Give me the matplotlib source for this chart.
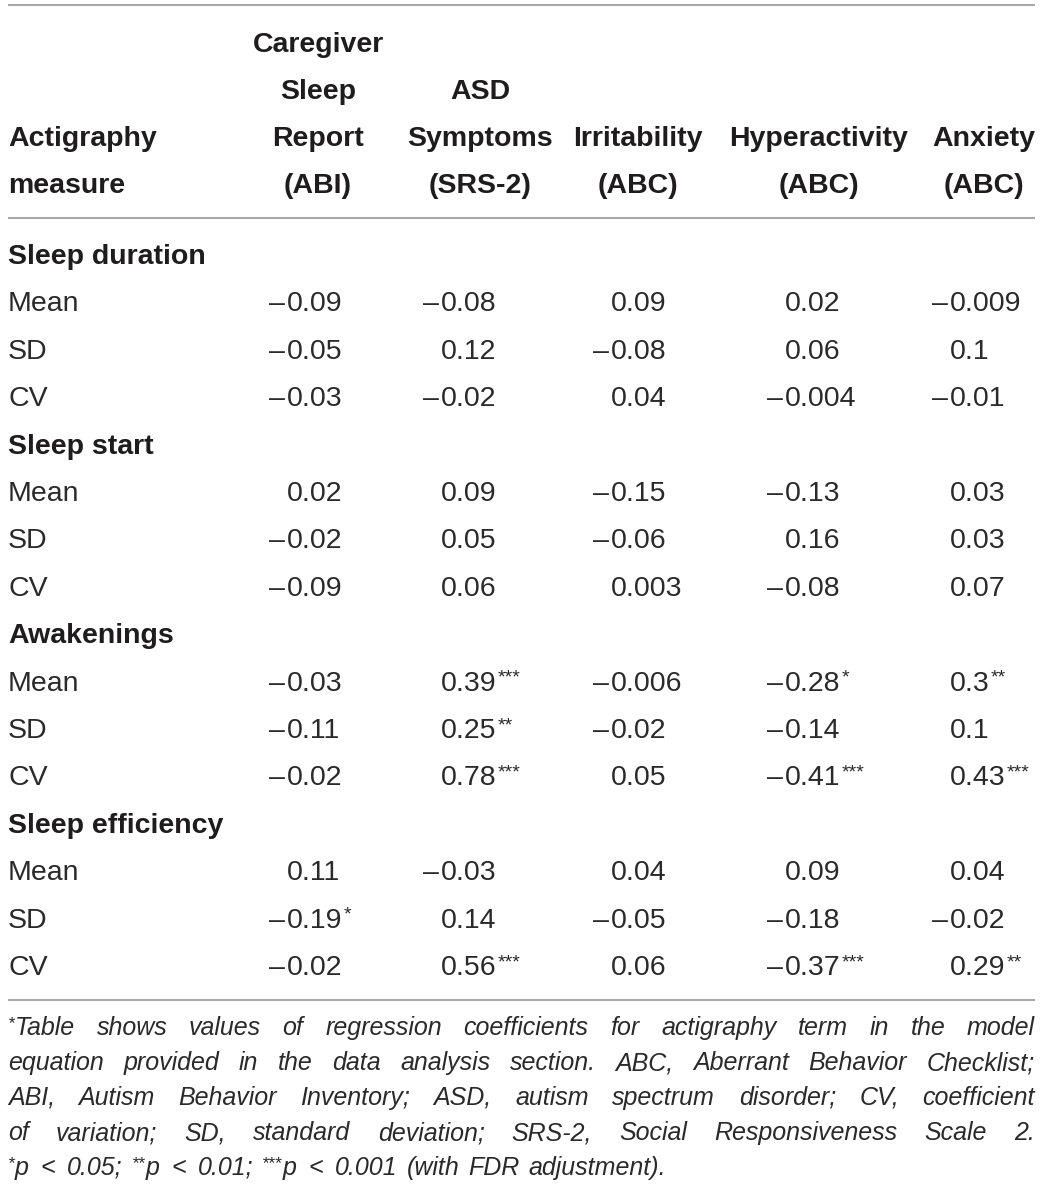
import matplotlib
matplotlib.use('Agg')
import matplotlib.pyplot as plt

# Table content
sections = ['Sleep duration', 'Sleep start', 'Awakenings', 'Sleep efficiency']
stat_names = ['Mean', 'SD', 'CV']

col_headers = [
	['Caregiver', 'Sleep', 'Report', '(ABI)'],
	['ASD', 'Symptoms', '(SRS-2)'],
	['Irritability', '(ABC)'],
	['Hyperactivity', '(ABC)'],
	['Anxiety', '(ABC)'],
]
row_header = ['Actigraphy', 'measure']

# regression coefficients, 3 stats per section (Mean, SD, CV)
caregiver_abi = [-0.09, -0.05, -0.03, 0.02, -0.02, -0.09, -0.03, -0.11, -0.02, 0.11, -0.19, -0.02]
asd_srs2 = [-0.08, 0.12, -0.02, 0.09, 0.05, 0.06, 0.39, 0.25, 0.78, -0.03, 0.14, 0.56]
irritability = [0.09, -0.08, 0.04, -0.15, -0.06, 0.003, -0.006, -0.02, 0.05, 0.04, -0.05, 0.06]
hyperactivity = [0.02, 0.06, -0.004, -0.13, 0.16, -0.08, -0.28, -0.14, -0.41, 0.09, -0.18, -0.37]
anxiety = [-0.009, 0.1, -0.01, 0.03, 0.03, 0.07, 0.3, 0.1, 0.43, 0.04, -0.02, 0.29]

# significance stars
caregiver_sig = ['', '', '', '', '', '', '', '', '', '', '*', '']
asd_sig = ['', '', '', '', '', '', '***', '**', '***', '', '', '***']
irritability_sig = [''] * 12
hyperactivity_sig = ['', '', '', '', '', '', '*', '', '***', '', '', '***']
anxiety_sig = ['', '', '', '', '', '', '**', '', '***', '', '', '**']

columns = [caregiver_abi, asd_srs2, irritability, hyperactivity, anxiety]
sig_columns = [caregiver_sig, asd_sig, irritability_sig, hyperactivity_sig, anxiety_sig]

footnote_lines = [
	'*Table shows values of regression coefficients for actigraphy term in the model',
	'equation provided in the data analysis section. ABC, Aberrant Behavior Checklist;',
	'ABI, Autism Behavior Inventory; ASD, autism spectrum disorder; CV, coefficient',
	'of variation; SD, standard deviation; SRS-2, Social Responsiveness Scale 2.',
	'*p < 0.05; **p < 0.01; ***p < 0.001 (with FDR adjustment).',
]

# Layout (pixel coords)
W, H = 1043, 1198
left, right = 8, 1035
col_left = [267, 421, 591, 765, 930]
col_center = [318, 480, 638, 819, 984]
dash_off = 20
head_base = [52, 99, 146, 193]
row0, row_step = 264, 47.4
foot_base = [1035, 1070, 1105, 1140, 1175]

FONT = 'Liberation Sans'
FS = 20.5
FOOT_FS = 18
dark = '#1e1c1d'
body = '#2a2a2a'
rule = '#a8a8a8'

fig = plt.figure(figsize=(W / 100, H / 100), dpi=100)
ax = fig.add_axes([0, 0, 1, 1])
ax.set_xlim(0, W)
ax.set_ylim(H, 0)
ax.axis('off')
renderer = fig.canvas.get_renderer()

def width_of(t):
	return t.get_window_extent(renderer=renderer).width

# rules
for y in [5, 218, 1000]:
	ax.plot([left, right], [y, y], color=rule, lw=1.5, solid_capstyle='butt')

# header
for k, txt in enumerate(row_header):
	ax.text(left, head_base[2 + k], txt, fontsize=FS, fontweight='bold',
		family=FONT, color=dark, va='baseline', ha='left')
for c, lines in enumerate(col_headers):
	start = len(head_base) - len(lines)
	for k, txt in enumerate(lines):
		ax.text(col_center[c], head_base[start + k], txt, fontsize=FS,
			fontweight='bold', family=FONT, color=dark, va='baseline', ha='center')

# body rows
row = 0
for s, sec in enumerate(sections):
	y = row0 + row_step * row
	ax.text(left, y, sec, fontsize=FS, fontweight='bold', family=FONT,
		color=dark, va='baseline')
	row += 1
	for k, st in enumerate(stat_names):
		y = row0 + row_step * row
		ax.text(left, y, st, fontsize=FS, family=FONT, color=body, va='baseline')
		idx = s * 3 + k
		for c in range(len(columns)):
			val = columns[c][idx]
			sig = sig_columns[c][idx]
			if val < 0:
				ax.text(col_left[c] + 2, y, '\u2013', fontsize=FS, family=FONT,
					color=body, va='baseline')
			t = ax.text(col_left[c] + dash_off, y, repr(abs(val)), fontsize=FS,
				family=FONT, color=body, va='baseline')
			if sig:
				x_end = col_left[c] + dash_off + width_of(t)
				ax.text(x_end + 1, y - 8, sig, fontsize=14, family=FONT,
					color=body, va='baseline')
		row += 1

# footnote, justified
def make_word(word, y):
	n = len(word) - len(word.lstrip('*'))
	parts = []
	if n:
		parts.append(ax.text(0, y - 7, word[:n], fontsize=12.5, family=FONT,
			style='italic', color=body, va='baseline'))
	if word[n:]:
		parts.append(ax.text(0, y, word[n:], fontsize=FOOT_FS, family=FONT,
			style='italic', color=body, va='baseline'))
	return parts

space_w = FOOT_FS * 100 / 72 * 0.278

for i, line in enumerate(footnote_lines):
	y = foot_base[i]
	tokens = line.split(' ')
	words = [make_word(w, y) for w in tokens]
	widths = [sum(width_of(p) for p in w) for w in words]
	if i < len(footnote_lines) - 1:
		gaps = [(right - left - sum(widths)) / (len(words) - 1)] * len(words)
	else:
		# a bit more room around the "<" signs, normal spaces elsewhere
		gaps = []
		for j, tk in enumerate(tokens):
			nxt = tokens[j + 1] if j + 1 < len(tokens) else ''
			gaps.append(12 if (tk == '<' or nxt == '<') else space_w + 2)
	x = left
	for w, wd, g in zip(words, widths, gaps):
		xx = x
		for t in w:
			t.set_x(xx)
			xx += width_of(t)
		x += wd + g

fig.savefig('out.png', dpi=100)
